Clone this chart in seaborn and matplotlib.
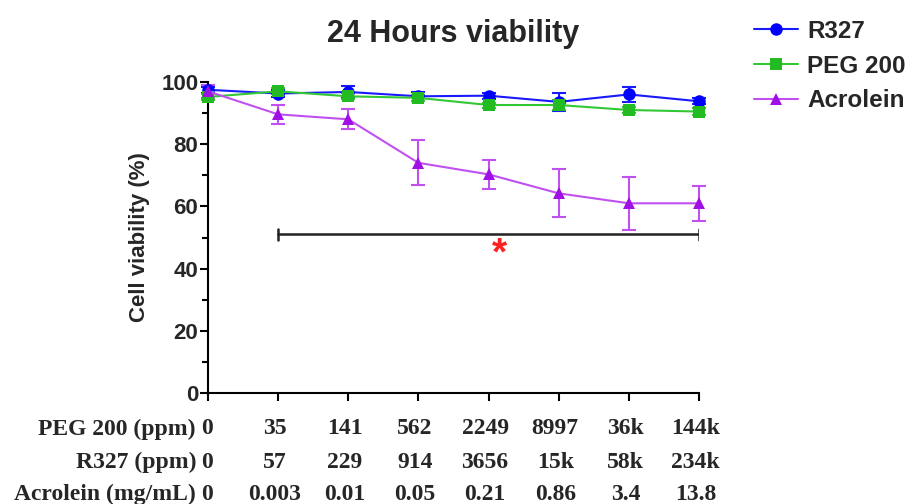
import numpy as np
import pandas as pd
import matplotlib
matplotlib.use("Agg")
import matplotlib.pyplot as plt
import seaborn as sns
from matplotlib.lines import Line2D

# ---- data ----
dose_index = [0, 1, 2, 3, 4, 5, 6, 7]
peg_ppm = ["0", "35", "141", "562", "2249", "8997", "36k", "144k"]
r327_ppm = ["0", "57", "229", "914", "3656", "15k", "58k", "234k"]
acrolein_mgml = ["0", "0.003", "0.01", "0.05", "0.21", "0.86", "3.4", "13.8"]

r327_mean = [97.5, 96.3, 96.8, 95.4, 95.6, 93.6, 96.0, 93.8]
r327_err = [1.0, 1.0, 2.0, 1.5, 1.0, 3.0, 2.5, 1.0]
peg_mean = [95.2, 97.0, 95.4, 94.9, 92.6, 92.6, 91.0, 90.5]
peg_err = [1.0, 1.0, 1.0, 1.0, 0.8, 1.5, 1.0, 1.0]
acro_mean = [97.0, 89.6, 88.0, 74.0, 70.3, 64.2, 61.0, 61.0]
acro_err = [2.0, 3.0, 3.2, 7.2, 4.7, 7.7, 8.5, 5.7]

series_names = ["R327", "PEG 200", "Acrolein"]
line_colors = {"R327": "#1a1aff", "PEG 200": "#33c833", "Acrolein": "#c050f0"}
marker_colors = {"R327": "#0000ff", "PEG 200": "#22bb22", "Acrolein": "#a010e6"}
markers = {"R327": "o", "PEG 200": "s", "Acrolein": "^"}

df = pd.DataFrame({
    "x": dose_index * 3,
    "viability": r327_mean + peg_mean + acro_mean,
    "err": r327_err + peg_err + acro_err,
    "series": ["R327"] * 8 + ["PEG 200"] * 8 + ["Acrolein"] * 8,
})

sns.set_style("ticks")
plt.rcParams["font.family"] = ["Liberation Sans", "DejaVu Sans"]

fig = plt.figure(figsize=(9.17, 5.04), dpi=100)
ax = fig.add_axes([208 / 917, 1 - 393 / 504, 491 / 917, 311 / 504])

for name in series_names:
    sub = df[df["series"] == name]
    ax.errorbar(sub["x"], sub["viability"], yerr=sub["err"], fmt="none",
                ecolor=line_colors[name], elinewidth=1.5, capsize=5, capthick=1.5,
                clip_on=False, zorder=2)
    sns.lineplot(data=sub, x="x", y="viability", color=line_colors[name],
                 marker=markers[name], markersize=9, markeredgewidth=0,
                 markerfacecolor=marker_colors[name], linewidth=1.5, ax=ax,
                 legend=False, clip_on=False, zorder=3)

ax.set_xlim(0, 7)
ax.set_ylim(0, 100)
ax.set_yticks([0, 20, 40, 60, 80, 100])
ax.set_yticks([10, 30, 50, 70, 90], minor=True)
ax.set_xticks(dose_index)
ax.set_xticklabels([])
ax.tick_params(axis="both", which="major", length=6, width=1.5, color="black")
ax.tick_params(axis="y", which="minor", length=4, width=1.5, color="black")
ax.tick_params(axis="y", labelsize=16, pad=1)
for lab in ax.get_yticklabels():
    lab.set_fontweight("bold")
for s in ["left", "bottom"]:
    ax.spines[s].set_linewidth(1.5)
    ax.spines[s].set_color("black")
sns.despine(ax=ax)

ax.set_xlabel("")
ax.set_ylabel("Cell viability (%)", fontsize=16, fontweight="bold", labelpad=8)
ax.set_title("24 Hours viability", fontsize=22, fontweight="bold", pad=29)

# significance bar
ax.plot([1, 7], [51, 51], color="#222222", lw=1.8)
ax.plot([1, 1], [49.3, 52.7], color="#222222", lw=1.8)
ax.plot([7, 7], [49.3, 52.7], color="#222222", lw=1.8)
ax.text(4.15, 44.5, "*", color="#ff2020", fontsize=28, fontweight="bold",
        ha="center", va="center")

# dose label rows
rows = [("PEG 200 (ppm)", peg_ppm), ("R327 (ppm)", r327_ppm),
        ("Acrolein (mg/mL)", acrolein_mgml)]
trans = matplotlib.transforms.blended_transform_factory(ax.transData, fig.transFigure)
row_y = [1 - 429 / 504, 1 - 462 / 504, 1 - 494 / 504]
serif = ["Liberation Serif", "DejaVu Serif"]
for (title, vals), yy in zip(rows, row_y):
    fig.text(196 / 917, yy, title, ha="right", va="center", fontsize=17,
             fontweight="bold", family=serif)
    for i, v in zip(dose_index, vals):
        xx = i - 0.05 if i > 0 else -0.02
        ax.text(xx, yy, v, transform=trans, ha="center", va="center",
                fontsize=17, fontweight="bold", family=serif)

# legend
handles = [Line2D([0], [0], color=line_colors[n], marker=markers[n], markersize=9,
                  markerfacecolor=marker_colors[n], markeredgewidth=0, lw=1.5)
           for n in series_names]
fig.legend(handles, series_names, loc="upper left",
           bbox_to_anchor=(754 / 917, 1 - 20 / 504),
           frameon=False, prop={"size": 17.5, "weight": "bold"},
           borderpad=0, borderaxespad=0,
           handlelength=1.8, handletextpad=0.4, labelspacing=0.48)

fig.savefig("out.png", dpi=100)
